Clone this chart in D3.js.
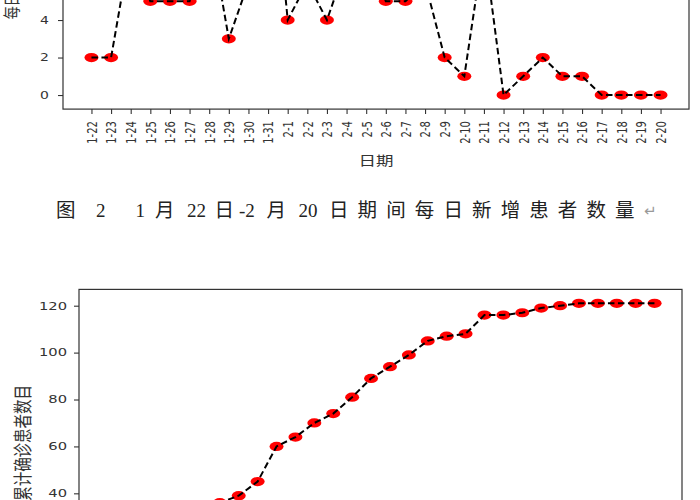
<!DOCTYPE html>
<html>
<head>
<meta charset="utf-8">
<script src="https://cdn.jsdelivr.net/npm/d3@7"></script>
<style>
    body { margin: 0; background: #fff; }
    svg { display: block; }
</style>
</head>
<body>
<div id="chart"></div>
<script>
// data
const dates = ["1-22", "1-23", "1-24", "1-25", "1-26", "1-27", "1-28", "1-29", "1-30", "1-31",
    "2-1", "2-2", "2-3", "2-4", "2-5", "2-6", "2-7", "2-8", "2-9", "2-10",
    "2-11", "2-12", "2-13", "2-14", "2-15", "2-16", "2-17", "2-18", "2-19", "2-20"];
const dailyNew = [2, 2, 8, 5, 5, 5, 9, 3, 6, 15, 4, 6, 4, 7, 8, 5, 5, 6, 2, 1, 8, 0, 1, 2, 1, 1, 0, 0, 0, 0];
const totalCases = [2, 4, 12, 17, 22, 27, 36, 39, 45, 60, 64, 70, 74, 81, 89, 94, 99, 105, 107, 108,
    116, 116, 117, 119, 120, 121, 121, 121, 121, 121];
const dailyTicks = [0, 2, 4, 6, 8, 10, 12, 14];
const totalTicks = [0, 20, 40, 60, 80, 100, 120];

const captionTokens = ["图", "2", "1", "月", "22", "日", "-2", "月", "20", "日期间每日新增患者数量"];
const captionX = [56, 96, 135.5, 155, 187, 214.5, 239, 266.5, 298.6, 329];

// the chart images in the document are stretched sideways
const stretch = 1.4;
const cjk = "'Noto Sans CJK SC', sans-serif";

const svg = d3.select("#chart")
    .append("svg")
    .attr("width", 700)
    .attr("height", 500);

function drawPanel(p) {
    const x = d3.scalePoint()
        .domain(dates)
        .range([p.left, p.right])
        .padding(1.45);

    const y = d3.scaleLinear()
        .domain(p.yDomain)
        .range([p.bottom, p.top]);

    const g = svg.append("g");

    var yAxis = g.append("g")
        .attr("transform", `translate(${p.left},0)`)
        .call(d3.axisLeft(y).tickValues(p.ticks).tickSize(5).tickFormat(d3.format("d")));
    yAxis.select(".domain").remove();
    yAxis.selectAll("line").attr("stroke", "#333").attr("stroke-width", 1.1);
    yAxis.selectAll("text")
        .attr("x", 0)
        .attr("fill", "#333")
        .style("font-family", "'DejaVu Sans', sans-serif")
        .style("font-size", p.tickFont + "px")
        .attr("transform", `translate(${-p.labelGap},0) scale(${stretch},1)`);

    if (p.showX) {
        var xAxis = g.append("g")
            .attr("transform", `translate(0,${p.bottom})`)
            .call(d3.axisBottom(x).tickSize(5));
        xAxis.select(".domain").remove();
        xAxis.selectAll("line").attr("stroke", "#333").attr("stroke-width", 1.1);
        xAxis.selectAll("text")
            .attr("y", 0)
            .attr("dy", "0.35em")
            .attr("text-anchor", "end")
            .attr("fill", "#333")
            .style("font-family", "'DejaVu Sans', sans-serif")
            .style("font-size", "10px")
            .attr("transform", `translate(0,12) scale(${stretch},1) rotate(-90)`);

        g.append("text")
            .attr("transform", `translate(${(p.left + p.right) / 2},${p.bottom + 51}) scale(1.35,1)`)
            .attr("text-anchor", "middle")
            .attr("dy", "0.35em")
            .attr("fill", "#333")
            .style("font-family", cjk)
            .style("font-size", "13px")
            .text(p.xLabel);
    }

    g.append("rect")
        .attr("x", p.left)
        .attr("y", p.top)
        .attr("width", p.right - p.left)
        .attr("height", p.bottom - p.top)
        .attr("fill", "none")
        .attr("stroke", "#333")
        .attr("stroke-width", 1.2);

    g.append("text")
        .attr("transform", `translate(${p.yLabelX},${(p.top + p.bottom) / 2}) scale(1.3,1) rotate(-90)`)
        .attr("text-anchor", "middle")
        .attr("dy", "0.35em")
        .attr("fill", "#333")
        .style("font-family", cjk)
        .style("font-size", p.labelFont + "px")
        .text(p.yLabel);

    const points = dates.map((d, i) => ({ date: d, value: p.values[i] }));

    g.selectAll("ellipse")
        .data(points)
        .enter()
        .append("ellipse")
        .attr("cx", d => x(d.date))
        .attr("cy", d => y(d.value))
        .attr("rx", 7)
        .attr("ry", 4.6)
        .attr("fill", "red");

    const line = d3.line()
        .x(d => x(d.date))
        .y(d => y(d.value));

    g.append("path")
        .datum(points)
        .attr("d", line)
        .attr("fill", "none")
        .attr("stroke", "black")
        .attr("stroke-width", 2)
        .attr("stroke-dasharray", "6.5,3.5");
}

drawPanel({
    left: 63, right: 689, top: -200.3, bottom: 109.1,
    yDomain: [-0.75, 15.75], ticks: dailyTicks, values: dailyNew,
    tickFont: 10, labelGap: 14, showX: true, xLabel: "日期",
    yLabel: "每日新增确诊患者数目", yLabelX: 12, labelFont: 13
});

drawPanel({
    left: 79, right: 682, top: 289.4, bottom: 596.4,
    yDomain: [-3.95, 126.95], ticks: totalTicks, values: totalCases,
    tickFont: 10.5, labelGap: 12, showX: false,
    yLabel: "累计确诊患者数目", yLabelX: 23, labelFont: 14.5
});

// figure caption of the upper chart (Chinese document grid spacing)
var caption = svg.append("text")
    .attr("y", 216.5)
    .attr("fill", "#222")
    .style("font-size", "19px")
    .style("font-family", "'Liberation Serif', serif");

caption.selectAll("tspan")
    .data(captionTokens)
    .enter()
    .append("tspan")
    .attr("x", (d, i) => captionX[i])
    .each(function(d) {
        const t = d3.select(this);
        if (/[\u4e00-\u9fff]/.test(d)) {
            t.style("font-family", cjk).style("font-size", "19.5px");
            if (d.length > 1) {
                t.attr("textLength", d.length * 28.6 - 9)
                    .attr("lengthAdjust", "spacing");
            }
        }
    })
    .text(d => d);

svg.append("text")
    .attr("x", 644)
    .attr("y", 216)
    .attr("fill", "#999")
    .style("font-size", "15px")
    .style("font-family", "'DejaVu Sans', sans-serif")
    .text("↵");
</script>
</body>
</html>
